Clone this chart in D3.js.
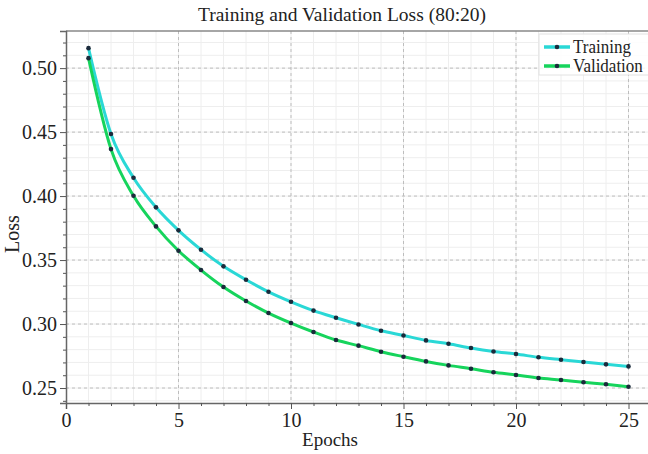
<!DOCTYPE html>
<html>
<head>
<meta charset="utf-8">
<script src="https://cdn.jsdelivr.net/npm/d3@7"></script>
<style>
    body { margin: 0; background: #fff; }
    text { font-family: "Liberation Serif", "Times New Roman", serif; fill: #222; }
</style>
</head>
<body>
<div id="chart"></div>
<script>
var epochs = [1,2,3,4,5,6,7,8,9,10,11,12,13,14,15,16,17,18,19,20,21,22,23,24,25];
var trainLoss = [0.5156, 0.4485, 0.4143, 0.3912, 0.3732, 0.3581, 0.3451, 0.3346, 0.3252, 0.3174,
                 0.3105, 0.3049, 0.2997, 0.2948, 0.2911, 0.2872, 0.2846, 0.2813, 0.2786, 0.2766,
                 0.2740, 0.2721, 0.2703, 0.2685, 0.2669];
var valLoss   = [0.5078, 0.4367, 0.4002, 0.3763, 0.3573, 0.3422, 0.3289, 0.3180, 0.3086, 0.3008,
                 0.2938, 0.2875, 0.2831, 0.2784, 0.2745, 0.2708, 0.2677, 0.2651, 0.2623, 0.2602,
                 0.2578, 0.2563, 0.2545, 0.2529, 0.2510];
var xTicks = [0, 5, 10, 15, 20, 25];
var yTicks = [0.25, 0.30, 0.35, 0.40, 0.45, 0.50];
var seriesNames = ["Training", "Validation"];
var seriesColors = ["#2ad8d6", "#16d45c"];

(function() {
    var W = 648, H = 454;
    var mLeft = 66, mTop = 31, mBottom = 403, mRight = 660;

    var x = d3.scaleLinear().domain([0, 26]).range([mLeft, mLeft + 26 * 22.5]);
    var y = d3.scaleLinear().domain([0.2383, 0.529]).range([mBottom, mTop]);

    var svg = d3.select("#chart").append("svg").attr("width", W).attr("height", H);

    // minor grid
    svg.append("g").selectAll("line").data(d3.range(1, 26)).enter().append("line")
        .attr("x1", function(d) { return x(d); }).attr("x2", function(d) { return x(d); })
        .attr("y1", mTop).attr("y2", mBottom)
        .attr("stroke", "#eeeeee").attr("stroke-width", 1);
    svg.append("g").selectAll("line").data(d3.range(24, 53).map(function(d) { return d / 100; })).enter().append("line")
        .attr("x1", mLeft).attr("x2", mRight)
        .attr("y1", function(d) { return y(d); }).attr("y2", function(d) { return y(d); })
        .attr("stroke", "#eeeeee").attr("stroke-width", 1);

    // major grid
    svg.append("g").selectAll("line").data(xTicks.slice(1)).enter().append("line")
        .attr("x1", function(d) { return x(d); }).attr("x2", function(d) { return x(d); })
        .attr("y1", mTop).attr("y2", mBottom)
        .attr("stroke", "#bdbdbd").attr("stroke-dasharray", "3,3");
    svg.append("g").selectAll("line").data(yTicks).enter().append("line")
        .attr("x1", mLeft).attr("x2", mRight)
        .attr("y1", function(d) { return y(d); }).attr("y2", function(d) { return y(d); })
        .attr("stroke", "#bdbdbd").attr("stroke-dasharray", "3,3");

    // top border
    svg.append("line").attr("x1", mLeft).attr("x2", mRight).attr("y1", mTop).attr("y2", mTop)
        .attr("stroke", "#888").attr("stroke-width", 1.5);

    // axes
    var xAxis = svg.append("g").attr("transform", "translate(0," + mBottom + ")")
        .call(d3.axisBottom(x).tickValues(xTicks).tickFormat(d3.format("d")).tickSize(6).tickPadding(4));
    svg.append("g").attr("transform", "translate(0," + mBottom + ")")
        .call(d3.axisBottom(x).tickValues(d3.range(1, 26).filter(function(d) { return d % 5; })).tickFormat("").tickSize(3))
        .select(".domain").remove();
    var yAxis = svg.append("g").attr("transform", "translate(" + mLeft + ",0)")
        .call(d3.axisLeft(y).tickValues(yTicks).tickFormat(d3.format(".2f")).tickSize(6).tickPadding(3));
    svg.append("g").attr("transform", "translate(" + mLeft + ",0)")
        .call(d3.axisLeft(y).tickValues(d3.range(24, 53).filter(function(d) { return d % 5; }).map(function(d) { return d / 100; })).tickFormat("").tickSize(3))
        .select(".domain").remove();

    svg.selectAll(".domain").attr("stroke", "#666").attr("stroke-width", 1.5);
    svg.selectAll(".tick line").attr("stroke", "#555");
    xAxis.selectAll("text").attr("font-size", 20).attr("font-family", "Liberation Serif").attr("fill", "#222");
    yAxis.selectAll("text").attr("font-size", 20).attr("font-family", "Liberation Serif").attr("fill", "#222");

    // lines and markers
    var line = d3.line().curve(d3.curveMonotoneX)
        .x(function(d, i) { return x(epochs[i]); })
        .y(function(d) { return y(d); });

    [trainLoss, valLoss].forEach(function(series, k) {
        svg.append("path").datum(series)
            .attr("fill", "none").attr("stroke", seriesColors[k]).attr("stroke-width", 3)
            .attr("d", line);
        svg.append("g").selectAll("circle").data(series).enter().append("circle")
            .attr("cx", function(d, i) { return x(epochs[i]); })
            .attr("cy", function(d) { return y(d); })
            .attr("r", 2.3).attr("fill", "#1b2b3c");
    });

    // legend
    var legend = svg.append("g");
    legend.append("rect").attr("x", 539).attr("y", 34).attr("width", 112).attr("height", 41)
        .attr("fill", "#fff").attr("fill-opacity", 0.85).attr("stroke", "#e2e2e2");
    seriesNames.forEach(function(name, k) {
        var ly = 47 + k * 19;
        legend.append("line").attr("x1", 544).attr("x2", 570).attr("y1", ly).attr("y2", ly)
            .attr("stroke", seriesColors[k]).attr("stroke-width", 3.5);
        legend.append("circle").attr("cx", 557).attr("cy", ly).attr("r", 2.3).attr("fill", "#1b2b3c");
        legend.append("text").attr("transform", "translate(573," + (ly + 6) + ") scale(1,1.1)")
            .attr("font-size", 17).text(name);
    });

    // titles
    svg.append("text").attr("x", 342).attr("y", 21).attr("text-anchor", "middle")
        .attr("font-size", 19.5).text("Training and Validation Loss (80:20)");
    svg.append("text").attr("x", 330).attr("y", 446).attr("text-anchor", "middle")
        .attr("font-size", 19).text("Epochs");
    svg.append("text").attr("transform", "translate(19,234) rotate(-90)").attr("text-anchor", "middle")
        .attr("font-size", 20).text("Loss");
})();
</script>
</body>
</html>
